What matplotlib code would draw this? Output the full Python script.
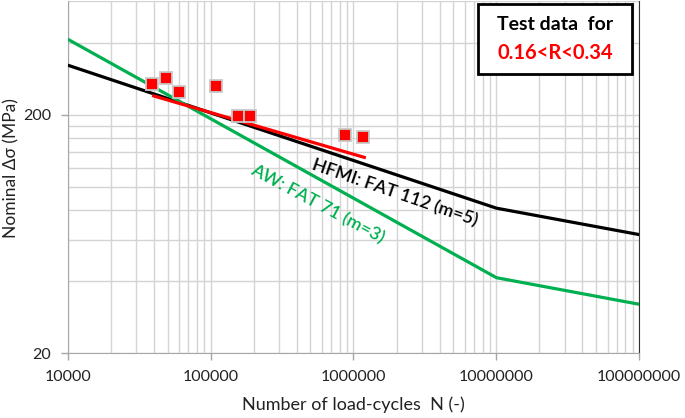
import numpy as np
import matplotlib.pyplot as plt
from matplotlib.ticker import FixedLocator, NullFormatter

plt.rcParams['font.family'] = ['Lato', 'DejaVu Sans']

# S-N design curves (knee at 1e7 cycles)
n_curve = [1e4, 1e7, 1e8]
hfmi_fat112 = [323, 81.2, 62.9]
aw_fat71 = [415, 41.5, 32.1]

# trend line through test data
n_trend = [3.9e4, 1.22e6]
s_trend = [241, 132]

# test data points
n_test = [38900, 48400, 60600, 108600, 155400, 189200, 870800, 1161000]
s_test = [270, 286, 250, 265, 198, 198, 164, 161]

fig = plt.figure(figsize=(6.85, 4.18), dpi=100)
ax = fig.add_axes([0.0988, 0.1548, 0.8345, 0.8428])

ax.plot(n_curve, hfmi_fat112, color='black', lw=2.3, solid_capstyle='butt', zorder=3)
ax.plot(n_curve, aw_fat71, color='#00B050', lw=2.3, solid_capstyle='butt', zorder=3)
ax.plot(n_trend, s_trend, color='#FF0000', lw=2.3, solid_capstyle='butt', zorder=4)
ax.plot(n_test, s_test, ls='none', marker='s', ms=9, mfc='#FF0000',
        mec='#C8C8C8', mew=1.3, zorder=5)

ax.set_xscale('log')
ax.set_yscale('log')
ax.set_xlim(1e4, 1e8)
ax.set_ylim(20, 600)

ax.xaxis.set_major_locator(FixedLocator([1e4, 1e5, 1e6, 1e7, 1e8]))
ax.set_xticklabels(['10000', '100000', '1000000', '10000000', '100000000'])
minor_x = [k * 10.0 ** d for d in range(4, 8) for k in range(2, 10)]
ax.xaxis.set_minor_locator(FixedLocator(minor_x))
ax.xaxis.set_minor_formatter(NullFormatter())

ax.yaxis.set_major_locator(FixedLocator([20, 200]))
ax.set_yticklabels(['20', '200'])
minor_y = list(np.arange(40, 200, 20)) + [400, 600]
ax.yaxis.set_minor_locator(FixedLocator(minor_y))
ax.yaxis.set_minor_formatter(NullFormatter())

ax.grid(True, which='both', color='#D4D4D4', lw=1.0, zorder=0)
ax.set_axisbelow(True)
ax.tick_params(which='major', length=5, width=1, color='#A6A6A6',
               labelsize=11.5, pad=7, labelcolor='#222222')
ax.tick_params(which='minor', length=0)
for side in ['left', 'bottom', 'top']:
    ax.spines[side].set_color('#A6A6A6')
ax.spines['right'].set_color('#333333')
ax.spines['top'].set_visible(False)

ax.set_xlabel('Number of load-cycles  N (-)', fontsize=13, color='#222222', labelpad=9)
ax.set_ylabel('Nominal \u0394\u03c3 (MPa)', fontsize=12.5, color='#222222')
ax.yaxis.set_label_coords(-0.084, 0.525)

ax.text(1.95e6, 93.7, 'HFMI: FAT 112 (m=5)', rotation=-19, rotation_mode='anchor',
        ha='center', va='center', fontsize=13, fontweight='semibold', color='black')
ax.text(5.6e5, 84.3, 'AW: FAT 71 (m=3)', rotation=-28, rotation_mode='anchor',
        ha='center', va='center', fontsize=13, fontweight='semibold', color='#00B050')

box = plt.Rectangle((478 / 685, 1 - 74 / 418), 154 / 685, 70 / 418,
                    transform=fig.transFigure, facecolor='white',
                    edgecolor='black', lw=2, zorder=10)
fig.patches.append(box)
fig.text(555 / 685, 1 - 25 / 418, 'Test data  for', ha='center', va='center',
         fontsize=14, fontweight='bold', color='black', zorder=11)
fig.text(555 / 685, 1 - 53 / 418, '0.16<R<0.34', ha='center', va='center',
         fontsize=14.5, fontweight='bold', color='#FF0000', zorder=11)

fig.savefig('out.png', dpi=100)
